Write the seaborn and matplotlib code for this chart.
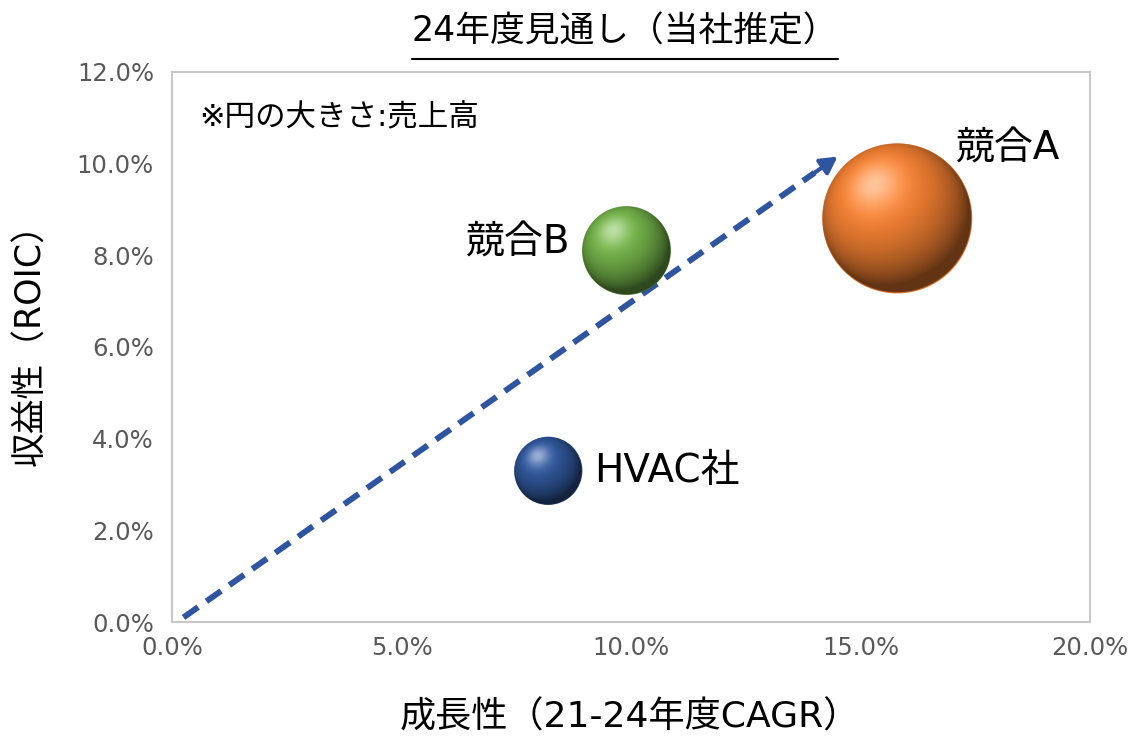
import numpy as np
import pandas as pd
import matplotlib
matplotlib.use('Agg')
import matplotlib.pyplot as plt
from matplotlib.lines import Line2D
import seaborn as sns

# Data (growth = 21-24 CAGR %, roic = ROIC %, sales = relative revenue)
companies = ['HVAC社', '競合B', '競合A']
growth = [8.2, 9.9, 15.8]
roic = [3.3, 8.1, 8.8]
sales = [1.0, 1.7, 4.9]
base_colors = ['#2F5597', '#70AD47', '#ED7D31']
label_offsets = [(33, 0), (-40, 6), (42, 50)]
label_align = ['left', 'right', 'left']

arrow_start = (0.25, 0.1)
arrow_end = (14.5, 10.15)

x_ticks = [0, 5, 10, 15, 20]
y_ticks = [0, 2, 4, 6, 8, 10, 12]

df = pd.DataFrame({'company': companies, 'growth': growth, 'roic': roic, 'sales': sales})

sns.set_style('white')
plt.rcParams['font.family'] = ['DejaVu Sans', 'Noto Sans CJK JP']
plt.rcParams['text.color'] = 'black'
plt.rcParams['axes.labelcolor'] = 'black'

fig = plt.figure(figsize=(11.37, 7.37), dpi=100)
ax = fig.add_axes([0.1513, 0.156, 0.8074, 0.7467])

size_range = (2396, 11664)
sns.scatterplot(data=df, x='growth', y='roic', hue='company', size='sales',
                sizes=size_range, palette=dict(zip(companies, base_colors)),
                edgecolor='none', legend=False, zorder=3, ax=ax)

ax.set_xlim(0, 20)
ax.set_ylim(0, 12)
ax.set_xticks(x_ticks)
ax.set_yticks(y_ticks)
ax.set_xticklabels([f'{v:.1f}%' for v in x_ticks])
ax.set_yticklabels([f'{v:.1f}%' for v in y_ticks])
ax.tick_params(axis='both', length=0, labelsize=17.5, labelcolor='#595959')
ax.tick_params(axis='y', pad=13)
ax.tick_params(axis='x', pad=10)
for sp in ax.spines.values():
    sp.set_visible(True)
    sp.set_color('#c8c8c8')
    sp.set_linewidth(1.5)
ax.grid(False)

# shaded spheres laid over the scatter markers
def sphere_image(color, n=256):
    base = np.array(matplotlib.colors.to_rgb(color))
    u = np.linspace(-1, 1, n)
    X, Y = np.meshgrid(u, u[::-1])
    r2 = X ** 2 + Y ** 2
    Z = np.sqrt(np.clip(1 - r2, 0, 1))
    L = np.array([-0.3, 0.45, 0.84])
    L = L / np.linalg.norm(L)
    d = np.clip(X * L[0] + Y * L[1] + Z * L[2], 0, 1)
    spec = d ** 18
    rgb = base[None, None, :] * (0.42 + 0.68 * d[..., None])
    rgb = rgb + (1 - rgb) * (0.5 * spec[..., None])
    rgb = np.clip(rgb, 0, 1)
    alpha = np.clip((1 - np.sqrt(r2)) * n / 2, 0, 1)
    return np.dstack([rgb, alpha])

smin, smax = min(sales), max(sales)
fig.canvas.draw()
for i, c in enumerate(companies):
    s = size_range[0] + (sales[i] - smin) / (smax - smin) * (size_range[1] - size_range[0])
    r_px = np.sqrt(s) / 2 * fig.dpi / 72
    cx, cy = ax.transData.transform((growth[i], roic[i]))
    (x0, y0) = ax.transData.inverted().transform((cx - r_px, cy - r_px))
    (x1, y1) = ax.transData.inverted().transform((cx + r_px, cy + r_px))
    ax.imshow(sphere_image(base_colors[i]), extent=[x0, x1, y0, y1],
              aspect='auto', interpolation='bilinear', zorder=4)
    ax.annotate(c, (growth[i], roic[i]), xytext=label_offsets[i], textcoords='offset points',
                ha=label_align[i], va='center', fontsize=28, color='black', zorder=5)

ax.set_xlim(0, 20)
ax.set_ylim(0, 12)

# dashed trend arrow
arrow_color = '#2F55A0'
frac = 0.965
base_x = arrow_start[0] + (arrow_end[0] - arrow_start[0]) * frac
base_y = arrow_start[1] + (arrow_end[1] - arrow_start[1]) * frac
ax.plot([arrow_start[0], base_x], [arrow_start[1], base_y], color=arrow_color,
        lw=4.3, dashes=(3, 1.7), solid_capstyle='butt', dash_capstyle='butt', zorder=2)
ax.annotate('', xy=arrow_end, xytext=(base_x, base_y),
            arrowprops=dict(arrowstyle='-|>,head_length=1.0,head_width=0.55',
                            color=arrow_color, lw=3, shrinkA=0, shrinkB=0), zorder=2)

ax.text(0.03, 0.916, '※円の大きさ:売上高', transform=ax.transAxes,
        fontsize=22, ha='left', va='center', color='black')

ax.set_xlabel('成長性（21-24年度CAGR）', fontsize=26, va='center', color='black')
ax.xaxis.set_label_coords(0.499, -0.173)
ax.set_ylabel('収益性（ROIC）', fontsize=25, va='center', color='black')
ax.yaxis.set_label_coords(-0.154, 0.52)

# underlined title
title = fig.text(0.5497, 1 - 31 / 737, '24年度見通し（当社推定）', fontsize=25,
                 ha='center', va='center', color='black')
fig.canvas.draw()
bb = title.get_window_extent()
W, H = fig.bbox.width, fig.bbox.height
y_line = 1 - 59 / 737
fig.add_artist(Line2D([bb.x0 / W, bb.x1 / W], [y_line, y_line], color='black', lw=1.5))

fig.savefig('out.png', dpi=100)
